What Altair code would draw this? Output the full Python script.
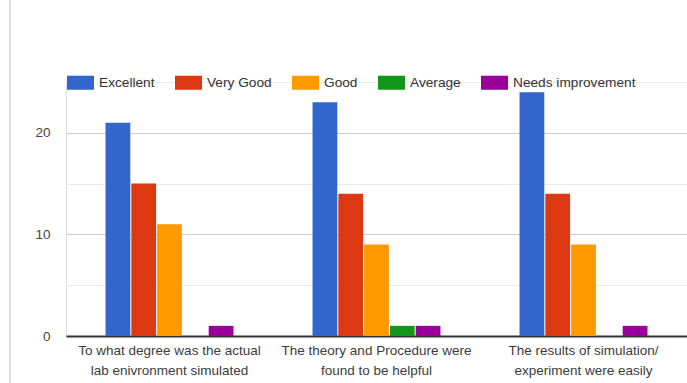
import altair as alt
import pandas as pd

questions = [
    "To what degree was the actual|lab enivronment simulated",
    "The theory and Procedure were|found to be helpful",
    "The results of simulation/|experiment were easily",
]
ratings = ["Excellent", "Very Good", "Good", "Average", "Needs improvement"]
excellent = [21, 23, 24]
very_good = [15, 14, 14]
good = [11, 9, 9]
average = [0, 1, 0]
needs_improvement = [1, 1, 1]
colors = ["#3366cc", "#dc3912", "#ff9900", "#109618", "#990099"]

series = [excellent, very_good, good, average, needs_improvement]
rows = []
for r, vals in zip(ratings, series):
    for q, v in zip(questions, vals):
        rows.append({"question": q, "rating": r, "count": v})
df = pd.DataFrame(rows)

FONT = "Liberation Sans"

bars = alt.Chart(df).mark_bar().encode(
    x=alt.X(
        "question:N",
        sort=questions,
        scale=alt.Scale(paddingInner=0.382, paddingOuter=0.191),
        axis=alt.Axis(
            title=None,
            labelAngle=0,
            labelExpr="split(datum.label, '|')",
            labelFont=FONT,
            labelFontSize=13.5,
            labelColor="#3c3c3c",
            labelLineHeight=20,
            labelPadding=7,
            ticks=False,
            domainColor="#333333",
            domainWidth=2,
            labelLimit=400,
        ),
    ),
    xOffset=alt.XOffset("rating:N", sort=ratings, scale=alt.Scale(paddingInner=0.04)),
    y=alt.Y(
        "count:Q",
        scale=alt.Scale(domain=[0, 25], nice=False),
        axis=alt.Axis(
            title=None,
            values=[0, 5, 10, 15, 20, 25],
            labelExpr="datum.value % 10 === 0 ? datum.label : ''",
            labelFont=FONT,
            labelFontSize=13.5,
            labelColor="#444444",
            labelPadding=16,
            ticks=False,
            domain=False,
            gridColor={"condition": {"test": "datum.value % 10 === 0", "value": "#cccccc"}, "value": "#ebebeb"},
        ),
    ),
    color=alt.Color(
        "rating:N",
        sort=ratings,
        scale=alt.Scale(domain=ratings, range=colors),
        legend=alt.Legend(
            title=None,
            orient="none",
            direction="horizontal",
            columns=5,
            legendX=1,
            legendY=-13,
            symbolType="M-1,-0.52H1V0.52H-1Z",
            symbolSize=729,
            symbolStrokeWidth=0,
            labelFont=FONT,
            labelFontSize=13.7,
            labelColor="#333333",
            labelOffset=5,
            columnPadding=20,
            padding=0,
        ),
    ),
)

border = alt.Chart(df).mark_rule(color="#dddddd", strokeWidth=1).encode(
    x=alt.value(-56), y=alt.value(-82), y2=alt.value(301)
)

chart = alt.layer(border, bars).properties(
    width=621,
    height=254,
    padding={"left": 66, "top": 82, "right": 0, "bottom": 47},
    autosize=alt.AutoSizeParams(type="none"),
).configure_view(stroke=None).configure(background="white")

chart.save("out.html", embed_options={"renderer": "svg", "actions": False})
